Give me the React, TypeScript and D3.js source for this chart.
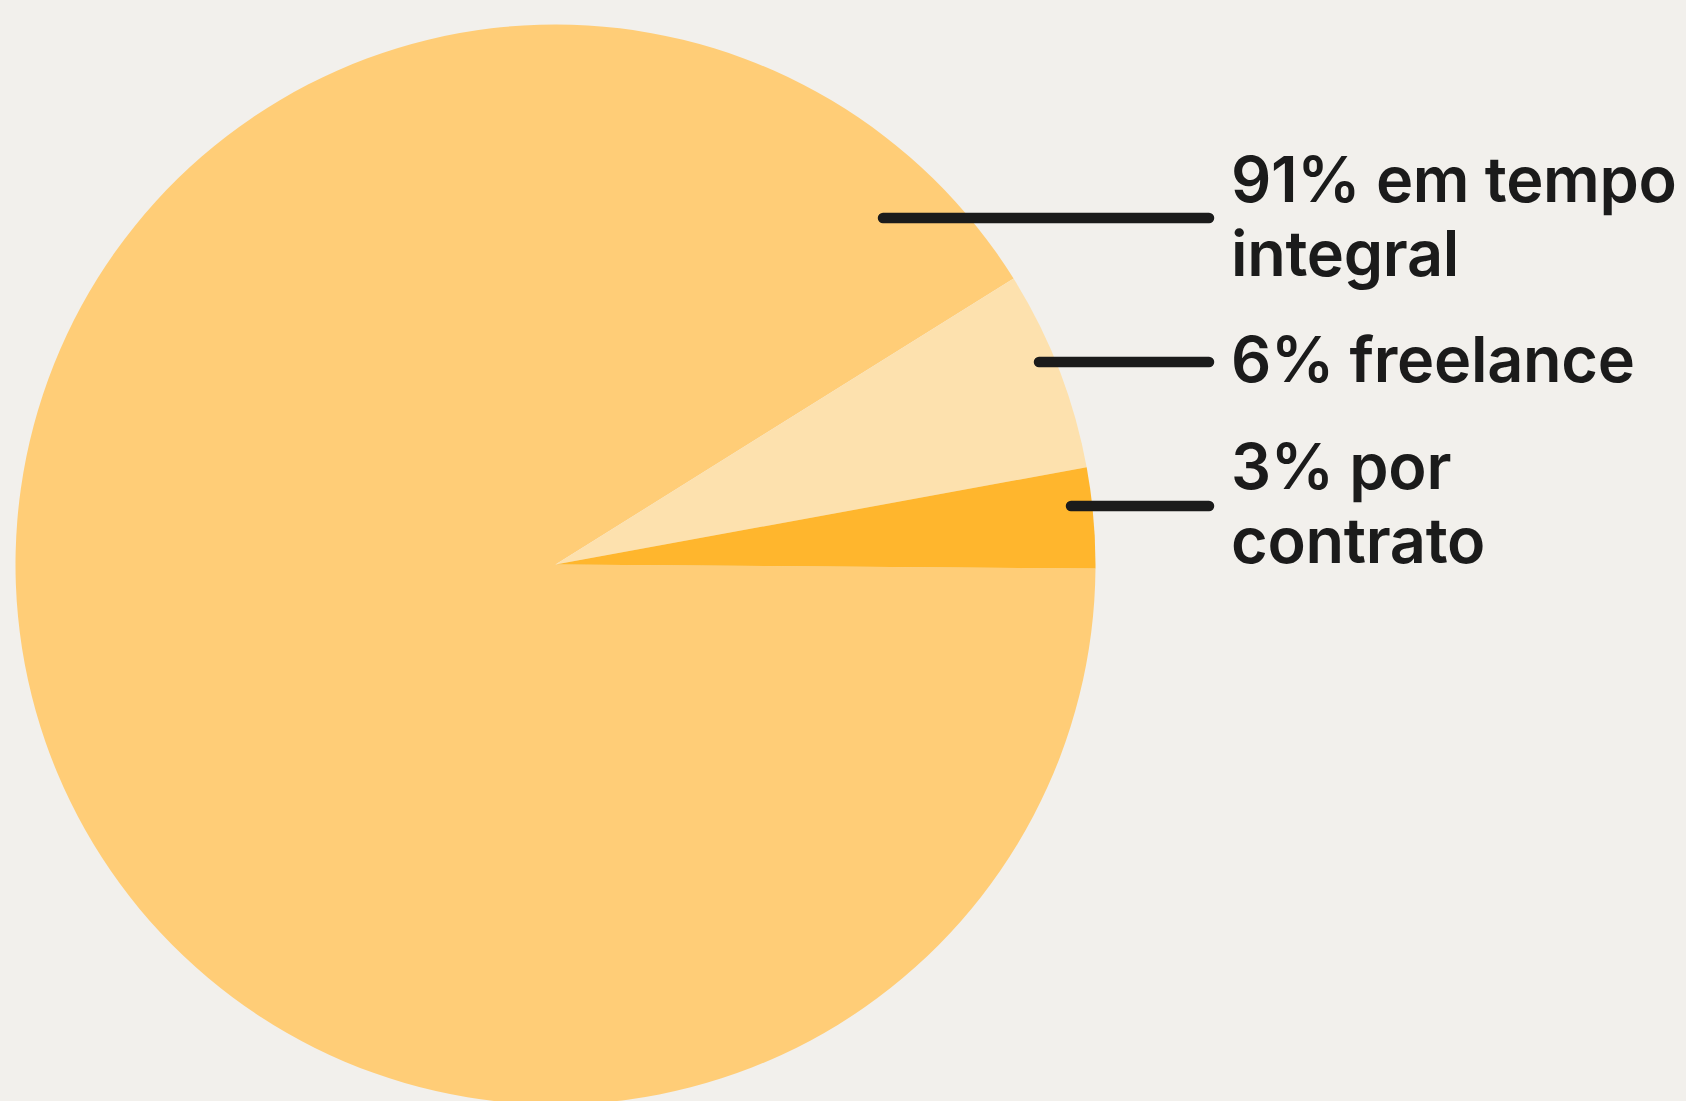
import { useEffect, useRef } from 'react'
import * as d3 from 'd3'

// shares of the survey, in percent
const categories = ['em tempo integral', 'freelance', 'por contrato']
const shares = [91, 6, 3]
const labelLines = [
  ['91% em tempo', 'integral'],
  ['6% freelance'],
  ['3% por', 'contrato'],
]

const colors = ['#FFCD77', '#FDE1AE', '#FFB62D']

// where the leader line of each label starts and sits
const leaders = [
  { x0: 883, y: 218 },
  { x0: 1039, y: 362 },
  { x0: 1071, y: 506 },
]
const labelBaselines = [202, 382, 489]

export default function App() {
  const svgRef = useRef<SVGSVGElement>(null)

  useEffect(() => {
    if (!svgRef.current) return

    d3.select(svgRef.current).selectAll('*').remove()

    const width = 1686
    const height = 1101
    const cx = 555.5
    const cy = 564.5
    const radius = 540

    const svg = d3.select(svgRef.current)
      .attr('width', width)
      .attr('height', height)

    svg.append('rect')
      .attr('width', width)
      .attr('height', height)
      .attr('fill', '#F2F0EC')

    // first slice starts just below 3 o'clock and runs clockwise
    const start = Math.PI / 2 + 0.0075
    const pie = d3.pie<number>()
      .sort(null)
      .startAngle(start)
      .endAngle(start + 2 * Math.PI)

    const arc = d3.arc<d3.PieArcDatum<number>>()
      .innerRadius(0)
      .outerRadius(radius)

    const g = svg.append('g')
      .attr('transform', `translate(${cx},${cy})`)

    g.selectAll('.slice')
      .data(pie(shares))
      .enter().append('path')
      .attr('class', 'slice')
      .attr('d', arc)
      .attr('fill', (d, i) => colors[i])

    // leader lines
    const lineEnd = 1209
    svg.selectAll('.leader')
      .data(leaders)
      .enter().append('line')
      .attr('class', 'leader')
      .attr('x1', d => d.x0)
      .attr('x2', lineEnd)
      .attr('y1', d => d.y)
      .attr('y2', d => d.y)
      .attr('stroke', '#1B1B1B')
      .attr('stroke-width', 10.5)
      .attr('stroke-linecap', 'round')

    // labels
    const labels = svg.selectAll('.label')
      .data(categories)
      .enter().append('text')
      .attr('class', 'label')
      .attr('x', 1231)
      .attr('y', (d, i) => labelBaselines[i])
      .style('font-family', 'Inter, "Noto Sans", sans-serif')
      .style('font-weight', 600)
      .style('font-size', '63px')
      .style('letter-spacing', '-0.3px')
      .style('fill', '#1B1B1B')

    labels.each(function (d, i) {
      d3.select(this).selectAll('tspan')
        .data(labelLines[i])
        .enter().append('tspan')
        .attr('x', 1231)
        .attr('dy', (t, j) => (j === 0 ? 0 : 74))
        .text(t => t)
    })
  }, [])

  return (
    <svg
      ref={svgRef}
      style={{ position: 'absolute', left: 0, top: 0, display: 'block' }}
    />
  )
}
